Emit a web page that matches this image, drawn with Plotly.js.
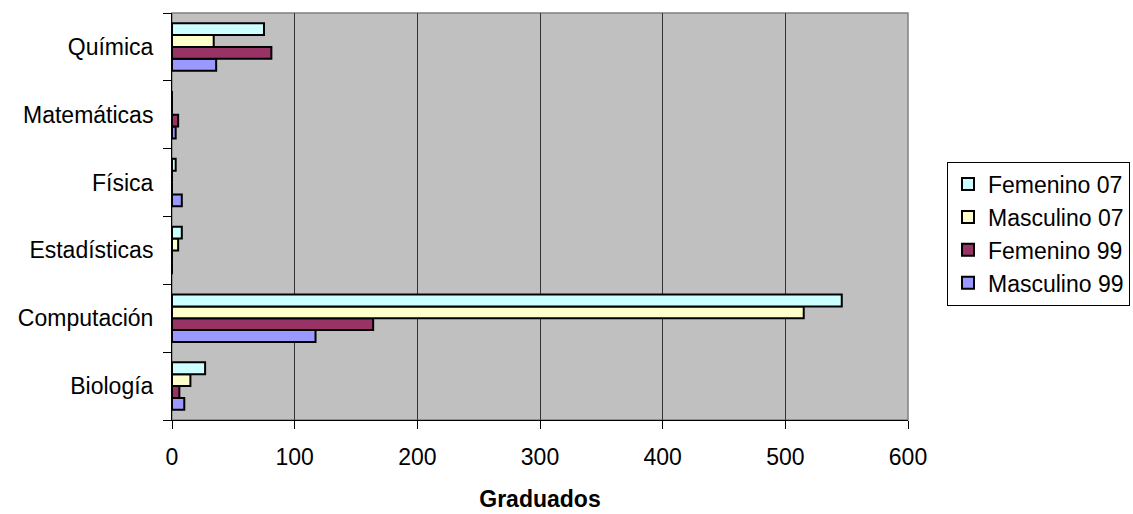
<!DOCTYPE html>
<html>
<head>
<meta charset="utf-8">
<script src="https://cdn.plot.ly/plotly-3.0.1.min.js"></script>
<style>html,body{margin:0;padding:0;background:#fff;}#chart{width:1133px;height:514px;}</style>
</head>
<body>
<div id="chart"></div>
<script>
// Categories listed bottom to top
var categories = ["Biología", "Computación", "Estadísticas", "Física", "Matemáticas", "Química"];
var femenino07 = [27, 546, 8, 3, 0, 75];
var masculino07 = [15, 515, 5, 0, 0, 34];
var femenino99 = [6, 164, 0, 0, 5, 81];
var masculino99 = [10, 117, 0, 8, 3, 36];
var xTicks = [0, 100, 200, 300, 400, 500, 600];

var FONT = "'Liberation Sans', Arial, sans-serif";
var FS = 23;

function mk(name, vals, color) {
  return {
    type: "bar", orientation: "h", name: name,
    y: categories, x: vals,
    marker: {color: color, line: {color: "#000000", width: 2}},
    hoverinfo: "x+y+name"
  };
}

var data = [
  mk("Masculino 99", masculino99, "#9999FF"),
  mk("Femenino 99", femenino99, "#993366"),
  mk("Masculino 07", masculino07, "#FFFFCC"),
  mk("Femenino 07", femenino07, "#CCFFFF")
];

var layout = {
  width: 1133, height: 514,
  margin: {l: 172, r: 225, t: 13, b: 94, pad: 0, autoexpand: false},
  paper_bgcolor: "#FFFFFF",
  plot_bgcolor: "#C0C0C0",
  font: {family: FONT, size: FS, color: "#000000"},
  barmode: "group",
  bargap: 0.3,
  bargroupgap: 0,
  showlegend: true,
  legend: {
    traceorder: "reversed",
    x: 1.053, xanchor: "left",
    y: 0.458, yanchor: "middle",
    bgcolor: "#FFFFFF",
    bordercolor: "#000000", borderwidth: 1,
    font: {family: FONT, size: FS, color: "#000000"},
    itemgap: 0,
    itemwidth: 30
  },
  xaxis: {
    range: [0, 600],
    tickmode: "array", tickvals: xTicks, ticktext: xTicks.map(String),
    showgrid: true, gridcolor: "#333333", gridwidth: 1,
    zeroline: false,
    showline: true, linecolor: "#000000", linewidth: 1,
    ticks: "outside", ticklen: 8, tickcolor: "#000000", tickwidth: 1,
    tickfont: {family: FONT, size: FS, color: "#000000"},
    ticklabelstandoff: 8,
    title: {text: "<b>Graduados</b>", font: {family: FONT, size: FS, color: "#000000"}, standoff: 22},
    automargin: false,
    fixedrange: true
  },
  yaxis: {
    type: "category",
    categoryorder: "array", categoryarray: categories,
    showgrid: false, zeroline: false,
    showline: true, linecolor: "#000000", linewidth: 1,
    ticks: "outside", ticklen: 8, tickcolor: "#000000", tickwidth: 1,
    tickson: "boundaries",
    tickfont: {family: FONT, size: FS, color: "#000000"},
    ticklabelstandoff: 13,
    automargin: false,
    fixedrange: true
  },
  shapes: [{
    type: "rect", xref: "paper", yref: "paper", x0: 0, x1: 1, y0: 0, y1: 1,
    line: {color: "#808080", width: 1.5}, fillcolor: "rgba(0,0,0,0)", layer: "below"
  }]
};

Plotly.newPlot("chart", data, layout, {displayModeBar: false, staticPlot: true});
</script>
</body>
</html>
